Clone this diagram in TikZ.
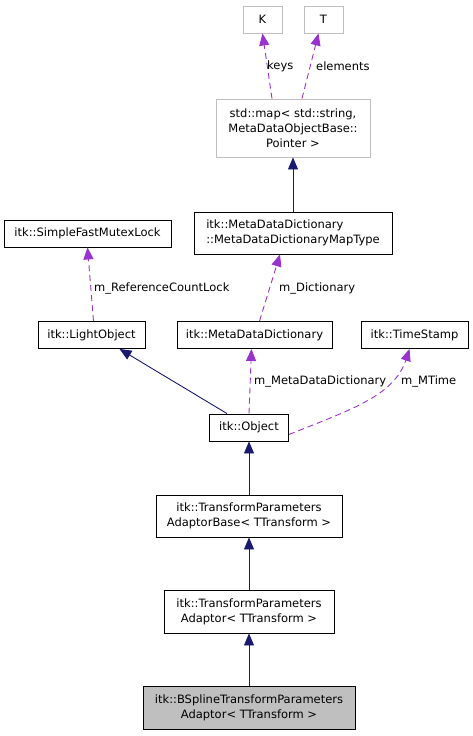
\documentclass[tikz,border=0pt]{standalone}
\usepackage{fontspec}
\newfontfamily\doxfont{DejaVu Sans}
\usetikzlibrary{arrows.meta, positioning, calc}
\definecolor{inherit}{HTML}{191970}
\definecolor{member}{HTML}{9A32CD}
\definecolor{extern}{HTML}{BFBFBF}
\definecolor{current}{HTML}{BFBFBF}

\begin{document}
\begin{tikzpicture}[
    x=1pt, y=-1pt,
    >={Triangle[length=12pt, width=10pt]},
    cls/.style={
      draw=black, line width=0.9pt, fill=white, inner sep=0pt,
      font=\doxfont\fontsize{11.5}{15}\selectfont, align=center,
      minimum height=27pt
    },
    extcls/.style={cls, draw=extern},
    curcls/.style={cls, fill=current},
    isa/.style={->, line width=0.9pt, inherit},
    uses/.style={->, line width=0.9pt, member, dash pattern=on 6pt off 4pt},
    lbl/.style={font=\doxfont\fontsize{11.5}{13}\selectfont, anchor=west, inner sep=0pt}
  ]
  \useasboundingbox (0,0) rectangle (473,736);

  % Klassen
  \node[extcls, minimum width=39pt]  (k)    at (262.5, 19.5) {K};
  \node[extcls, minimum width=39pt]  (t)    at (323.5, 19.5) {T};
  \node[extcls, minimum width=154pt, minimum height=58pt] (map) at (293, 128)
    {std::map\textless{} std::string,\\MetaDataObjectBase::\\Pointer \textgreater{}};
  \node[cls, minimum width=167pt]    (lock) at (87.5, 233.5) {itk::SimpleFastMutexLock};
  \node[cls, minimum width=198pt, minimum height=42pt, align=left] (maptype) at (293, 233)
    {itk::MetaDataDictionary\\::MetaDataDictionaryMapType};
  \node[cls, minimum width=107pt]    (light) at (91.5, 335) {itk::LightObject};
  \node[cls, minimum width=155pt]    (dict)  at (254.5, 335) {itk::MetaDataDictionary};
  \node[cls, minimum width=107pt]    (stamp) at (414.5, 335) {itk::TimeStamp};
  \node[cls, minimum width=79pt]     (obj)   at (249, 427.5) {itk::Object};
  \node[cls, minimum width=186pt, minimum height=42pt] (base) at (249, 516)
    {itk::TransformParameters\\AdaptorBase\textless{} TTransform \textgreater{}};
  \node[cls, minimum width=170pt, minimum height=43pt] (adapt) at (249, 611.5)
    {itk::TransformParameters\\Adaptor\textless{} TTransform \textgreater{}};
  \node[curcls, minimum width=212pt, minimum height=43pt] (bspline) at (249, 707.5)
    {itk::BSplineTransformParameters\\Adaptor\textless{} TTransform \textgreater{}};

  % Vererbung
  \draw[isa] (maptype) -- (map);
  \draw[isa] ([xshift=-22pt]obj.north) -- ([xshift=28pt]light.south);
  \draw[isa] (base) -- (obj);
  \draw[isa] (adapt) -- (base);
  \draw[isa] (bspline) -- (adapt);

  % Member
  \draw[uses] ([xshift=-21pt]map.north) -- (k.south);
  \draw[uses] ([xshift=9pt]map.north) -- ([xshift=-5pt]t.south);
  \draw[uses] ([xshift=2pt]light.north) -- (lock.south);
  \draw[uses] ([xshift=5pt]dict.north) -- ([xshift=-13pt]maptype.south);
  \draw[uses] (obj.north) -- ([xshift=-3pt]dict.south);
  \draw[uses] ([yshift=-7pt]obj.east) .. controls (350,410) and (394,396) .. ([xshift=-5pt]stamp.south);

  % Beschriftungen
  \node[lbl] (lkeys)  at (267, 66)  {keys};
  \node[lbl] (lelem)  at (316, 66)  {elements};
  \node[lbl] (llock)  at (94, 288)  {m\_ReferenceCountLock};
  \node[lbl] (ldict)  at (279, 288) {m\_Dictionary};
  \node[lbl] (lmdd)   at (254, 381) {m\_MetaDataDictionary};
  \node[lbl] (ltime)  at (401, 381) {m\_MTime};

\end{tikzpicture}
\end{document}
